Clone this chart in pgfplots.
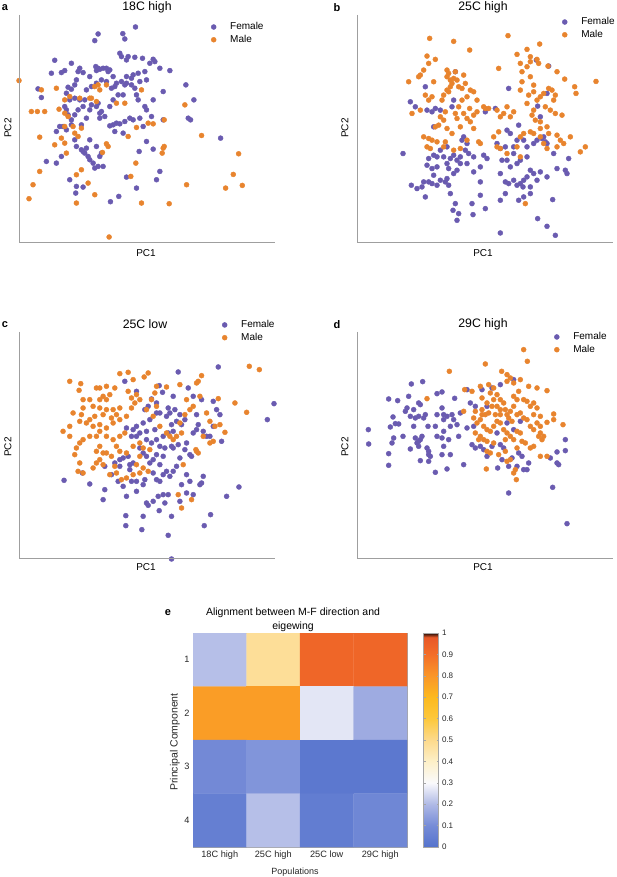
\documentclass[border=0pt]{standalone}
\usepackage{fontspec}
\setmainfont{Liberation Sans}
\usepackage{pgfplots}
\pgfplotsset{compat=1.18}
\definecolor{fem}{HTML}{6A5BB0}
\definecolor{mal}{HTML}{E8842E}
\newcommand{\lab}{\fontsize{10}{12}\selectfont}
\newcommand{\ttl}{\fontsize{12.3}{14}\selectfont}
\pgfplotsset{
  scat/.style={scale only axis, width=256pt, anchor=south west, axis line style={draw=none}, ticks=none, clip=false, y dir=reverse,
    legend style={font=\lab, draw=none, fill=none, anchor=north west, inner sep=0pt, row sep=0pt, cells={anchor=west},
      /tikz/every odd column/.append style={column sep=12pt}},
    /pgf/number format/assume math mode=true},
  fp/.style={only marks, mark=*, mark size=2.5pt, color=fem, mark options={draw=none, fill=fem}},
  mp/.style={only marks, mark=*, mark size=2.5pt, color=mal, mark options={draw=none, fill=mal}},
}
\begin{document}
\begin{tikzpicture}
\path[use as bounding box] (0,0) rectangle (617pt,877pt);
% ---------------- panel a
\begin{axis}[scat, at={(19pt,635pt)}, height=227pt, xmin=58, xmax=825, ymin=45, ymax=727,
  legend style={at={(0.75,0.976)}}]
\addplot[fp] coordinates {(407,81) (295,102) (285,122) (369,101) (375,117) (165,181) (215,190) (155,220) (185,218) (195,212) (240,205) (235,215) (250,218) (270,230) (288,200) (295,205) (290,212) (300,208) (310,205) (320,205) (330,210) (325,215) (340,230) (360,160) (365,170) (380,180) (385,170) (405,172) (428,175) (460,178) (465,185) (450,190) (480,205) (510,212) (435,215) (415,220) (400,225) (395,235) (380,230) (365,245) (375,255) (350,250) (345,260) (335,265) (320,245) (305,240) (290,250) (275,260) (260,270) (230,240) (225,255) (205,262) (215,268) (200,280) (210,300) (225,295) (240,300) (255,300) (250,320) (235,330) (225,345) (215,360) (195,320) (200,330) (205,345) (190,380) (215,375) (245,375) (260,355) (270,330) (275,315) (290,320) (300,340) (305,335) (330,320) (340,300) (355,285) (370,285) (380,250) (395,255) (405,265) (410,285) (415,300) (420,245) (440,240) (460,300) (490,275) (435,320) (440,330) (455,350) (420,355) (430,380) (400,360) (390,355) (375,365) (360,372) (350,370) (340,375) (330,378) (345,395) (370,400) (490,360) (558,255) (582,300) (565,355) (572,360) (662,415) (440,425) (460,448) (418,455) (480,515) (470,540) (410,565) (380,532) (332,606) (357,590) (270,420) (260,445) (230,440) (245,450) (250,455) (255,460) (265,470) (270,480) (280,490) (295,500) (285,505) (310,500) (300,470) (305,460) (290,440) (225,420) (200,390) (180,380) (170,395) (185,470) (170,490) (140,485) (210,540) (230,560) (250,562) (228,580) (125,293) (115,267) (300,355) (315,350) (295,310)};
\addlegendentry{Female}
\addplot[mp] coordinates {(58,242) (125,270) (95,335) (113,335) (135,335) (170,265) (178,328) (195,340) (205,350) (210,290) (240,295) (275,295) (285,260) (295,255) (290,305) (320,255) (350,310) (375,310) (425,270) (195,380) (220,380) (225,400) (235,410) (245,385) (165,435) (185,415) (195,430) (200,460) (120,412) (120,515) (100,555) (88,597) (230,525) (245,510) (265,550) (285,585) (230,610) (320,432) (325,440) (385,410) (410,383) (445,370) (460,372) (493,360) (555,315) (605,407) (490,445) (487,460) (493,440) (408,490) (393,530) (425,610) (508,612) (560,555) (677,565) (700,524) (716,462) (727,557) (328,712) (308,458) (270,295) (300,270) (195,300)};
\addlegendentry{Male}
\end{axis}
\draw[gray!75, line width=0.6pt] (19pt,862pt) -- (19pt,635pt) -- (275pt,635pt);
\node[font=\ttl] at (147pt,870pt) {18C high};
\node[font=\fontsize{11}{13}\selectfont\bfseries] at (5pt,869pt) {a};
\node[font=\lab, rotate=90] at (8pt,749pt) {PC2};
\node[font=\lab] at (146pt,624pt) {PC1};
% ---------------- panel b
\begin{axis}[scat, at={(357pt,635pt)}, height=227pt, xmin=170, xmax=938, ymin=45, ymax=725,
  legend style={at={(0.801,0.998)}}]
\addplot[fp] coordinates {(308,460) (330,305) (345,320) (375,260) (380,330) (395,335) (400,380) (405,325) (420,330) (465,215) (455,320) (460,300) (440,440) (420,450) (410,470) (400,465) (385,475) (380,495) (395,505) (430,470) (440,490) (450,475) (460,465) (470,480) (480,470) (490,410) (485,420) (495,450) (505,460) (500,490) (480,490) (470,510) (460,520) (440,535) (435,545) (445,555) (420,540) (410,555) (395,550) (385,545) (370,545) (365,560) (350,565) (333,555) (375,590) (400,525) (410,500) (450,580) (465,610) (475,640) (458,630) (470,660) (515,610) (540,585) (555,625) (518,643) (540,500) (550,465) (560,475) (520,470) (500,430) (590,430) (600,445) (605,480) (620,480) (600,520) (615,545) (625,550) (640,540) (650,555) (660,550) (668,560) (670,540) (680,530) (690,510) (700,520) (710,540) (720,515) (740,530) (660,480) (650,490) (630,500) (640,440) (650,420) (670,420) (680,440) (700,430) (710,420) (730,410) (740,430) (760,460) (770,505) (795,510) (805,475) (800,520) (757,598) (712,655) (740,678) (765,705) (600,698) (655,600) (670,590) (600,600) (615,580) (625,265) (655,375) (630,400) (620,390) (615,440) (640,460) (740,280) (708,180) (745,198) (712,318) (720,350) (585,325) (555,335) (520,515) (540,545) (690,560) (690,580) (680,470) (725,415) (735,425) (445,505)};
\addlegendentry{Female}
\addplot[mp] coordinates {(388,115) (460,124) (508,150) (623,107) (718,132) (680,148) (650,163) (710,178) (743,198) (770,215) (793,237) (823,260) (827,280) (887,244) (380,168) (405,178) (385,190) (370,210) (355,230) (360,225) (325,245) (400,245) (440,210) (445,220) (465,215) (470,240) (455,250) (450,260) (440,270) (430,285) (445,275) (490,225) (495,250) (485,265) (510,270) (520,275) (530,300) (500,290) (485,300) (475,320) (465,340) (470,355) (490,340) (500,355) (510,365) (520,345) (555,325) (550,320) (395,290) (385,300) (375,285) (360,330) (335,340) (420,350) (430,360) (415,375) (405,380) (440,385) (455,400) (435,425) (430,440) (460,450) (480,445) (500,420) (370,410) (385,415) (395,420) (410,425) (380,440) (390,445) (535,425) (540,430) (580,410) (590,440) (600,445) (595,395) (660,190) (665,215) (680,200) (690,230) (700,255) (700,275) (665,245) (660,270) (685,285) (710,300) (720,290) (730,280) (745,265) (755,270) (765,285) (760,300) (735,320) (750,330) (765,340) (785,345) (700,330) (695,345) (705,360) (720,365) (720,385) (740,380) (745,400) (770,405) (780,420) (790,430) (810,410) (840,455) (855,440) (650,440) (660,410) (670,400) (690,395) (700,400) (720,410) (730,430) (740,445) (660,470) (620,460) (630,350) (690,170) (690,185) (715,190) (675,610) (595,205) (590,330) (610,340) (680,310) (640,335) (600,350) (425,300) (435,335) (520,385) (508,325) (530,335) (480,380) (770,440) (440,230) (450,240) (460,235) (475,260) (565,325) (620,320)};
\addlegendentry{Male}
\end{axis}
\draw[gray!75, line width=0.6pt] (357pt,862pt) -- (357pt,635pt) -- (613pt,635pt);
\node[font=\ttl] at (483pt,870pt) {25C high};
\node[font=\fontsize{11}{13}\selectfont\bfseries] at (337pt,869pt) {b};
\node[font=\lab, rotate=90] at (345pt,749pt) {PC2};
\node[font=\lab] at (483pt,624pt) {PC1};
% ---------------- panel c
\begin{axis}[scat, at={(19pt,319pt)}, height=226.7pt, xmin=58, xmax=825, ymin=95, ymax=775,
  legend style={at={(0.793,1.057)}}]
\addplot[fp] coordinates {(375,245) (410,275) (455,298) (478,258) (488,278) (535,217) (520,290) (565,265) (580,290) (605,300) (640,305) (655,202) (650,330) (660,345) (640,380) (665,425) (822,312) (802,360) (717,562) (680,590) (632,645) (613,678) (515,778) (505,707) (515,650) (478,633) (445,617) (430,650) (426,690) (378,678) (378,648) (440,610) (460,605) (495,610) (505,585) (490,585) (475,590) (410,575) (380,590) (335,525) (315,570) (310,600) (270,553) (248,520) (193,542) (315,500) (345,490) (360,500) (390,510) (395,545) (410,545) (430,555) (435,540) (460,520) (470,540) (480,545) (490,525) (500,515) (510,530) (520,515) (530,500) (545,555) (560,525) (570,545) (580,585) (600,555) (610,530) (605,550) (540,605) (560,580) (480,495) (490,470) (470,465) (460,480) (450,490) (440,470) (430,460) (420,445) (440,420) (455,430) (470,420) (490,410) (505,400) (520,395) (515,375) (530,365) (500,350) (510,340) (480,340) (470,340) (450,360) (430,370) (410,380) (400,390) (380,385) (395,410) (410,410) (420,400) (440,395) (465,390) (480,440) (495,445) (515,440) (535,435) (555,450) (570,465) (575,470) (560,430) (580,400) (595,375) (590,390) (610,395) (620,410) (630,410) (555,360) (545,375) (540,345) (525,330) (505,325) (470,310) (435,330) (445,320) (360,480) (370,475) (385,470) (400,490) (390,495) (370,560) (355,545) (520,445) (540,475) (590,345)};
\addlegendentry{Female}
\addplot[mp] coordinates {(210,245) (243,252) (238,272) (290,265) (300,265) (320,260) (345,265) (360,222) (385,218) (400,240) (433,232) (445,220) (470,260) (500,262) (410,285) (395,295) (420,300) (405,310) (395,325) (385,275) (330,285) (310,290) (320,300) (300,300) (270,300) (250,300) (250,325) (245,345) (220,340) (240,365) (280,320) (300,325) (320,330) (340,330) (360,325) (350,345) (335,355) (310,345) (285,350) (270,360) (260,370) (280,380) (300,375) (320,385) (340,370) (360,360) (380,350) (375,400) (360,410) (340,420) (320,410) (300,395) (290,410) (270,410) (250,420) (240,430) (210,410) (190,395) (225,465) (240,490) (235,515) (250,520) (280,505) (290,490) (300,480) (310,460) (300,440) (290,455) (320,460) (335,470) (350,440) (360,455) (380,460) (400,440) (420,430) (430,445) (450,450) (420,470) (410,495) (430,505) (445,515) (420,520) (400,525) (380,535) (365,540) (350,520) (330,525) (310,495) (345,500) (470,320) (460,350) (480,380) (500,400) (510,410) (520,420) (530,410) (545,400) (540,370) (555,345) (570,330) (560,300) (580,320) (600,290) (595,245) (605,228) (590,250) (540,255) (620,340) (630,365) (645,380) (660,375) (675,398) (630,430) (640,425) (610,410) (595,460) (588,450) (550,495) (705,310) (740,338) (655,297) (748,200) (778,210) (535,585) (545,625) (575,600) (590,455) (440,330) (455,300) (465,280) (230,445) (210,380)};
\addlegendentry{Male}
\end{axis}
\draw[gray!75, line width=0.6pt] (19pt,545pt) -- (19pt,319pt) -- (275pt,319pt);
\node[font=\ttl] at (145pt,553pt) {25C low};
\node[font=\fontsize{11}{13}\selectfont\bfseries] at (5pt,552pt) {c};
\node[font=\lab, rotate=90] at (8pt,430pt) {PC2};
\node[font=\lab] at (146pt,310pt) {PC1};
% ---------------- panel d
\begin{axis}[scat, at={(357pt,319pt)}, height=226.7pt, xmin=170, xmax=938, ymin=95, ymax=775,
  legend style={at={(0.770,1.004)}}]
\addplot[fp] coordinates {(204,390) (205,433) (265,298) (265,462) (265,497) (292,303) (278,352) (270,382) (285,372) (295,373) (280,415) (275,430) (308,410) (320,325) (315,335) (325,290) (333,253) (367,246) (355,310) (360,315) (340,330) (330,350) (345,355) (355,350) (375,345) (370,355) (340,380) (330,448) (345,415) (355,425) (360,420) (365,410) (350,430) (355,440) (380,445) (385,455) (385,465) (390,470) (360,483) (385,485) (405,518) (440,508) (425,465) (450,465) (490,495) (383,380) (405,380) (410,410) (425,415) (430,440) (445,420) (430,395) (450,380) (470,375) (475,410) (410,282) (425,277) (425,325) (410,345) (430,345) (440,350) (455,345) (460,360) (463,296) (430,360) (480,340) (500,270) (510,310) (525,320) (520,380) (500,385) (515,435) (525,445) (540,440) (550,450) (560,470) (575,440) (590,400) (600,435) (610,445) (605,480) (592,505) (625,500) (635,475) (650,500) (655,460) (670,510) (680,510) (685,490) (665,470) (625,580) (757,563) (800,672) (795,420) (795,453) (770,457) (770,490) (775,495) (750,475) (640,390) (620,370) (660,365) (560,320) (545,270) (575,265) (640,240) (600,255)};
\addlegendentry{Female}
\addplot[mp] coordinates {(447,215) (380,297) (490,335) (493,270) (515,275) (540,260) (555,193) (565,255) (580,265) (570,280) (590,285) (600,300) (604,215) (620,225) (620,245) (630,235) (640,250) (660,240) (670,150) (681,185) (685,260) (710,265) (740,273) (655,275) (640,290) (650,300) (670,300) (680,305) (690,320) (700,310) (710,325) (700,345) (720,350) (760,343) (740,368) (788,375) (760,360) (545,295) (560,310) (575,320) (580,300) (590,320) (600,330) (610,310) (615,330) (620,345) (630,335) (640,320) (650,345) (660,340) (670,355) (680,360) (690,380) (700,390) (710,370) (720,380) (720,400) (715,410) (730,410) (725,420) (690,445) (700,440) (720,470) (740,470) (530,370) (540,360) (550,380) (560,390) (570,395) (580,380) (590,365) (600,370) (610,390) (620,400) (630,410) (640,420) (650,395) (660,400) (550,420) (540,410) (535,420) (560,425) (580,430) (560,455) (570,460) (595,465) (615,455) (620,485) (630,480) (645,510) (640,520) (648,540) (558,508) (525,400) (520,355) (545,345) (555,345) (565,340) (585,345) (600,345) (625,355) (635,365) (545,330) (525,335) (650,445) (665,425) (675,430) (615,420)};
\addlegendentry{Male}
\end{axis}
\draw[gray!75, line width=0.6pt] (357pt,545pt) -- (357pt,319pt) -- (613pt,319pt);
\node[font=\ttl] at (483pt,553pt) {29C high};
\node[font=\fontsize{11}{13}\selectfont\bfseries] at (337pt,552pt) {d};
\node[font=\lab, rotate=90] at (345pt,430pt) {PC2};
\node[font=\lab] at (483pt,310pt) {PC1};
% ---------------- panel e (heatmap)
\begin{axis}[at={(193pt,30pt)}, anchor=south west, scale only axis, width=214pt, height=214pt,
  xmin=0.5, xmax=4.5, ymin=0.5, ymax=4.5, y dir=reverse, enlargelimits=false,
  xtick={1,2,3,4}, xticklabels={18C high,25C high,25C low,29C high},
  ytick={1,2,3,4}, yticklabels={1,2,3,4},
  tick align=inside, major tick length=3pt, tick style={gray!70, thin},
  axis line style={gray!70},
  ticklabel style={font=\fontsize{9.2}{11}\selectfont, text=black!85},
  /pgf/number format/assume math mode=true,
  colormap={hm}{rgb255(0pt)=(85,115,205); rgb255(10pt)=(118,140,215); rgb255(20pt)=(175,185,230); rgb255(30pt)=(250,250,252); rgb255(40pt)=(253,240,200); rgb255(50pt)=(253,218,140); rgb255(60pt)=(253,200,60); rgb255(70pt)=(252,185,30); rgb255(80pt)=(250,150,40); rgb255(90pt)=(243,110,40); rgb255(98pt)=(232,88,40); rgb255(100pt)=(30,10,5)},
  point meta min=0, point meta max=1,
  colorbar,
  colorbar style={at={(parent axis.north east)}, anchor=north west, xshift=8pt, width=15pt,
    ytick={0,0.1,0.2,0.3,0.4,0.5,0.6,0.7,0.8,0.9,1},
    yticklabels={0,0.1,0.2,0.3,0.4,0.5,0.6,0.7,0.8,0.9,1},
    yticklabel style={font=\fontsize{8}{10}\selectfont, text=black!85},
    tick align=inside, major tick length=2pt, tick style={gray!70, thin},
    axis line style={gray!70}},
]
\addplot[matrix plot*, mesh/cols=4, mesh/rows=4, point meta=explicit] table[meta=c] {
x y c
1 1 0.21
2 1 0.48
3 1 0.93
4 1 0.93
1 2 0.78
2 2 0.78
3 2 0.27
4 2 0.17
1 3 0.09
2 3 0.12
3 3 0.02
4 3 0.02
1 4 0.05
2 4 0.21
3 4 0.04
4 4 0.08
};
\end{axis}
\node[font=\fontsize{10.5}{12}\selectfont] at (293pt,264pt) {Alignment between M-F direction and};
\node[font=\fontsize{10.5}{12}\selectfont] at (293pt,250pt) {eigewing};
\node[font=\fontsize{11}{13}\selectfont\bfseries] at (168pt,264pt) {e};
\node[font=\fontsize{9}{11}\selectfont, text=black!85] at (295pt,5pt) {Populations};
\node[font=\fontsize{10.5}{12}\selectfont, text=black!85, rotate=90] at (175pt,135pt) {Principal Component};
\end{tikzpicture}
\end{document}
